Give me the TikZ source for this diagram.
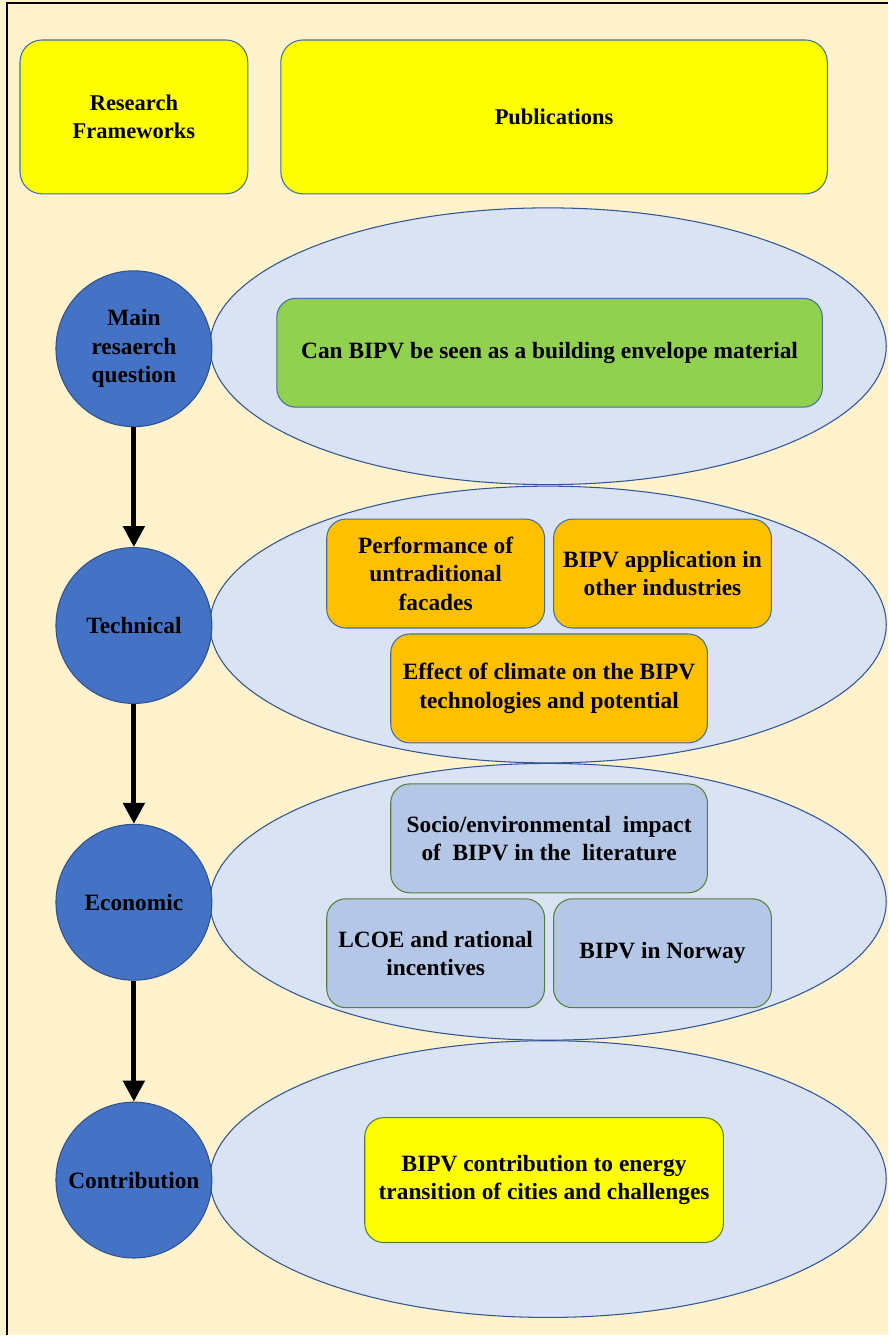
\documentclass[tikz,border=0pt]{standalone}
\usepackage{fontspec}
\setmainfont{Liberation Serif}
\usetikzlibrary{shapes.geometric,arrows.meta}
\definecolor{bgcream}{HTML}{FFF2CC}
\definecolor{boxline}{HTML}{41719C}
\definecolor{greenline}{HTML}{548235}
\definecolor{ovalfill}{HTML}{DAE3F3}
\definecolor{ovalline}{HTML}{2F5597}
\definecolor{stagefill}{HTML}{4472C4}
\definecolor{stageline}{HTML}{2F528F}
\definecolor{pubyellow}{HTML}{FFFF00}
\definecolor{qgreen}{HTML}{92D050}
\definecolor{techorange}{HTML}{FFC000}
\definecolor{econblue}{HTML}{B4C7E7}
\begin{document}
\begin{tikzpicture}[x=0.02cm,y=-0.02cm,
  font=\fontsize{13.3}{16.2}\selectfont\bfseries,
  box/.style={draw=boxline, line width=0.6pt, rounded corners=0.38cm, align=center, inner sep=2pt, minimum height=2.18cm},
  head/.style={box, fill=pubyellow, minimum height=3.08cm, rounded corners=0.44cm, font=\fontsize{12.8}{16}\selectfont\bfseries},
  oval/.style={draw=ovalline, fill=ovalfill, ellipse, line width=0.6pt, minimum width=13.54cm, minimum height=5.54cm, inner sep=0pt},
  stage/.style={draw=stageline, fill=stagefill, circle, line width=0.6pt, minimum size=3.12cm, inner sep=0pt, align=center},
  flow/.style={line width=2.8pt, -{Triangle[length=0.42cm,width=0.42cm]}}]
\fill[bgcream] (0,0) rectangle (889,1336);
\draw[line width=1.2pt] (7,1336) -- (7,3) -- (889,3);

% header
\node[head, minimum width=4.56cm] (rf) at (134,117) {Research\\Frameworks};
\node[head, minimum width=10.94cm] (pub) at (554.5,117) {Publications};

% ovals
\node[oval] (o1) at (548.5,346.5) {};
\node[oval] (o2) at (548.5,625) {};
\node[oval] (o3) at (548.5,902.5) {};
\node[oval] (o4) at (548.5,1180) {};

% stages
\node[stage] (s1) at (134,349) {Main\\resaerch\\question};
\node[stage] (s2) at (134,626) {Technical};
\node[stage] (s3) at (134,903) {Economic};
\node[stage] (s4) at (134,1181) {Contribution};

\draw[flow] (s1) -- (s2);
\draw[flow] (s2) -- (s3);
\draw[flow] (s3) -- (s4);

% publications
\node[box, fill=qgreen, minimum width=10.92cm] (q) at (550,353) {Can BIPV be seen as a building envelope material};

\node[box, fill=techorange, minimum width=4.36cm] (t1) at (436,574) {Performance of\\untraditional\\facades};
\node[box, fill=techorange, minimum width=4.36cm] (t2) at (663,574) {BIPV application in\\other industries};
\node[box, fill=techorange, minimum width=6.34cm] (t3) at (549.5,689) {Effect of climate on the BIPV\\technologies and potential};

\node[box, draw=greenline, fill=econblue, minimum width=6.34cm] (e1) at (549.5,839) {Socio/environmental\ \ impact\\of\ \ BIPV in the\ \ literature};
\node[box, draw=greenline, fill=econblue, minimum width=4.36cm] (e2) at (436,954) {LCOE and rational\\incentives};
\node[box, draw=greenline, fill=econblue, minimum width=4.36cm] (e3) at (663,954) {BIPV in Norway};

\node[box, draw=greenline, fill=pubyellow, minimum width=7.18cm, minimum height=2.5cm] (c1) at (544.5,1181) {BIPV contribution to energy\\transition of cities and challenges};
\end{tikzpicture}
\end{document}
